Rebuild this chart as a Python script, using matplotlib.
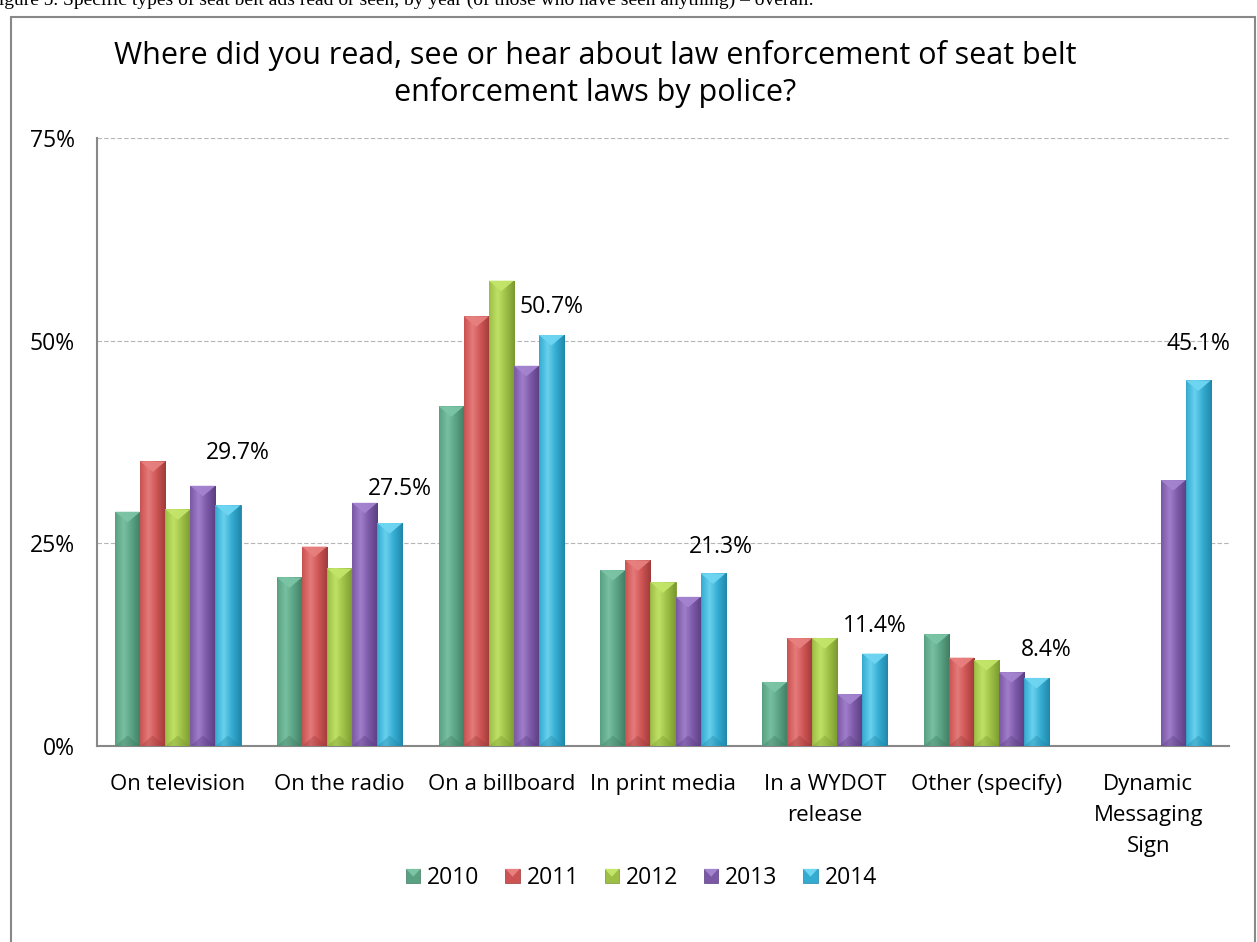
import matplotlib
matplotlib.use("Agg")
import matplotlib.pyplot as plt
import numpy as np
from matplotlib.patches import Rectangle, Polygon
from matplotlib.colors import LinearSegmentedColormap
from matplotlib.legend_handler import HandlerBase

plt.rcParams['font.family'] = ['Open Sans', 'DejaVu Sans']

categories = ["On television", "On the radio", "On a billboard", "In print media",
              "In a WYDOT\nrelease", "Other (specify)", "Dynamic\nMessaging\nSign"]
years = ["2010", "2011", "2012", "2013", "2014"]
v2010 = [28.9, 20.8, 41.9, 21.7, 7.9, 13.8, np.nan]
v2011 = [35.1, 24.6, 53.0, 22.9, 13.3, 10.9, np.nan]
v2012 = [29.2, 21.9, 57.4, 20.2, 13.3, 10.6, np.nan]
v2013 = [32.1, 30.0, 46.9, 18.4, 6.4, 9.1, 32.8]
v2014 = [29.7, 27.5, 50.7, 21.3, 11.4, 8.4, 45.1]
series = [v2010, v2011, v2012, v2013, v2014]
labels_2014 = ["29.7%", "27.5%", "50.7%", "21.3%", "11.4%", "8.4%", "45.1%"]
yticks = [0, 25, 50, 75]
ytick_labels = ["0%", "25%", "50%", "75%"]
title = "Where did you read, see or hear about law enforcement of seat belt\nenforcement laws by police?"
caption = "Figure 5. Specific types of seat belt ads read or seen, by year (of those who have seen anything) \u2013 overall."

base_colors = ["#5aa183", "#cc5352", "#9dbf46", "#7b58a6", "#34abd1"]
light_colors = ["#7cc4a6", "#e88080", "#c3e66a", "#a483cf", "#6fd6f2"]
dark_colors = ["#3e7a60", "#9a3a39", "#77962e", "#573c7e", "#1f85a6"]
label_offsets_px = [52, 34, 28, 26, 28, 28, 36]
label_dx_px = [10, 10, 0, 8, 0, 10, 0]

W, H = 1257, 942
fig = plt.figure(figsize=(W / 100, H / 100), dpi=100)
ax = fig.add_axes([97 / W, 1 - 746 / H, (1229 - 97) / W, (746 - 138) / H])

n = len(categories)
x = np.arange(n)
bw = 0.155
offsets = (np.arange(len(years)) - 2) * bw

for i, (vals, yr) in enumerate(zip(series, years)):
    bars = ax.bar(x + offsets[i], vals, bw, color=base_colors[i], edgecolor=dark_colors[i],
                  linewidth=0.6, label=yr, zorder=3)
    cmap = LinearSegmentedColormap.from_list("g", [base_colors[i], light_colors[i], base_colors[i], dark_colors[i]])
    grad = np.linspace(0, 1, 64).reshape(1, -1)
    for b in bars:
        h = b.get_height()
        if not np.isfinite(h) or h <= 0:
            continue
        bx, bwid = b.get_x(), b.get_width()
        im = ax.imshow(grad, extent=[bx, bx + bwid, 0, h], cmap=cmap, aspect='auto',
                       zorder=3.5, interpolation='bicubic', alpha=0.9)
        im.set_clip_path(b)
        d = 1.3
        tri = Polygon([[bx, h], [bx + bwid, h], [bx + bwid / 2, h - d]], closed=True,
                      facecolor=light_colors[i], edgecolor='none', zorder=4, alpha=0.95)
        ax.add_patch(tri)
        bot = Polygon([[bx, 0], [bx + bwid, 0], [bx + bwid / 2, d]], closed=True,
                      facecolor=dark_colors[i], edgecolor='none', zorder=4, alpha=0.35)
        ax.add_patch(bot)
    ax.set_xlim(-0.5, n - 0.5)

# data labels for 2014
for j, (v, lab) in enumerate(zip(v2014, labels_2014)):
    ax.annotate(lab, (x[j] + offsets[4], v), xytext=(label_dx_px[j] * 0.72, label_offsets_px[j] * 0.72),
                textcoords='offset points', ha='center', va='center', fontsize=16.5, color='black', zorder=6)

ax.set_ylim(0, 75)
ax.set_yticks(yticks)
ax.set_yticklabels(ytick_labels)
ax.set_xticks(x)
ax.set_xticklabels(categories, linespacing=1.62)
ax.tick_params(axis='both', length=0, labelsize=16, colors='black')
ax.tick_params(axis='y', labelsize=16.5, pad=16)
ax.tick_params(axis='x', pad=20)
ax.yaxis.grid(True, color='#b5b5b5', linestyle=(0, (4, 2)), linewidth=0.8, zorder=0)
ax.set_axisbelow(True)
for s in ['top', 'right']:
    ax.spines[s].set_visible(False)
for s in ['left', 'bottom']:
    ax.spines[s].set_color('#888888')
    ax.spines[s].set_linewidth(1.5)

fig.text(595 / W, 1 - 74 / H, title, ha='center', va='center', fontsize=22, linespacing=1.22)

# legend
class SquareHandler(HandlerBase):
    def __init__(self, i):
        super().__init__()
        self.i = i
    def create_artists(self, legend, orig_handle, xdescent, ydescent, width, height, fontsize, trans):
        s = height * 0.85
        x0 = width - s
        y0 = -ydescent + (height - s) / 2
        r = Rectangle((x0, y0), s, s, facecolor=base_colors[self.i],
                      edgecolor=dark_colors[self.i], lw=0.5, transform=trans)
        t = Polygon([[x0, y0 + s], [x0 + s, y0 + s], [x0 + s / 2, y0 + s * 0.45]],
                    facecolor=light_colors[self.i], edgecolor='none', transform=trans)
        return [r, t]

handles = [Rectangle((0, 0), 1, 1, color=c) for c in base_colors]
leg = fig.legend(handles, years, loc='center', bbox_to_anchor=(640 / W, 1 - 878 / H), ncol=5,
                 frameon=False, fontsize=16.5, handlelength=0.75, handleheight=0.75, handletextpad=0.3,
                 columnspacing=1.0, handler_map={h: SquareHandler(i) for i, h in enumerate(handles)})

# outer frame and clipped caption
fig.patches.append(Rectangle((11 / W, -0.01), (1255 - 11) / W, 1 - 17 / H + 0.01, transform=fig.transFigure,
                             fill=False, edgecolor='#888888', linewidth=1.5))
fig.text(-12 / W, 1 - 0 / H, caption, ha='left', va='center', fontsize=14,
         family=['Liberation Serif', 'DejaVu Serif'])

fig.savefig("out.png", dpi=100)
